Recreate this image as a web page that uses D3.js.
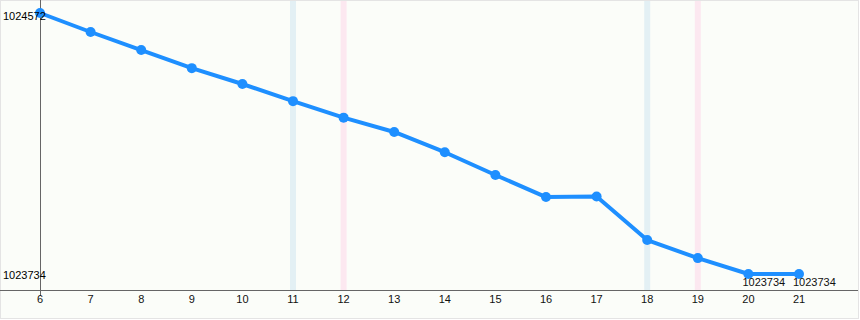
<!DOCTYPE html>
<html>
<head>
<meta charset="utf-8">
<script src="https://cdn.jsdelivr.net/npm/d3@7"></script>
<style>
  body { margin: 0; background: #fff; }
  svg { display: block; font-family: Arial, "Liberation Sans", sans-serif; }
</style>
</head>
<body>
<svg></svg>
<script>
//--Data
var days = [6, 7, 8, 9, 10, 11, 12, 13, 14, 15, 16, 17, 18, 19, 20, 21];
var values = [1024572, 1024511, 1024453, 1024395, 1024344, 1024289, 1024236, 1024190,
  1024125, 1024052, 1023981, 1023983, 1023843, 1023785, 1023734, 1023734];
var blueDays = [11, 18];
var pinkDays = [12, 19];
var labelledDays = [20, 21];

//Shared info
var canvas = {
  width: 860,
  height: 320,
  axisY: 290,
  line: "#1e8fff"
};
canvas.x = d3.scaleLinear().domain([6, 21]).range([40, 799]);
canvas.y = d3.scaleLinear().domain([d3.min(values), d3.max(values)]).range([274, 13]);

let root = d3.select("svg")
  .attr("width", canvas.width)
  .attr("height", canvas.height);

//Background and frame
root.append("rect")
  .attr("x", 0.5).attr("y", 0.5)
  .attr("width", canvas.width - 2).attr("height", canvas.height - 2)
  .attr("fill", "#fbfdf9")
  .attr("stroke", "#e4e4e4");

//Highlight bands
root.append("g").selectAll("rect")
  .data(blueDays.map(d => ({d: d, c: "#e3f0f4"})).concat(pinkDays.map(d => ({d: d, c: "#fce8f0"}))))
  .join("rect")
  .attr("x", d => canvas.x(d.d) - 3)
  .attr("y", 1)
  .attr("width", 6)
  .attr("height", canvas.axisY - 1)
  .attr("fill", d => d.c);

//Axes
root.append("line")
  .attr("x1", 0).attr("x2", canvas.width - 2)
  .attr("y1", canvas.axisY + 0.5).attr("y2", canvas.axisY + 0.5)
  .attr("stroke", "#666");
root.append("line")
  .attr("x1", canvas.x(6) + 0.5).attr("x2", canvas.x(6) + 0.5)
  .attr("y1", 0).attr("y2", canvas.axisY + 6)
  .attr("stroke", "#666");

root.append("g").selectAll("text")
  .data(days)
  .join("text")
  .attr("x", d => canvas.x(d))
  .attr("y", canvas.axisY + 13)
  .attr("text-anchor", "middle")
  .style("font-size", "11px")
  .attr("fill", "#111")
  .text(d => d);

//Line
let pts = days.map((d, i) => [d, values[i]]);
root.append("path")
  .datum(pts)
  .attr("fill", "none")
  .attr("stroke", canvas.line)
  .attr("stroke-width", 4)
  .attr("stroke-linejoin", "round")
  .attr("d", d3.line().x(d => canvas.x(d[0])).y(d => canvas.y(d[1])));

root.append("g").selectAll("circle")
  .data(pts)
  .join("circle")
  .attr("cx", d => canvas.x(d[0]))
  .attr("cy", d => canvas.y(d[1]))
  .attr("r", 5)
  .attr("fill", canvas.line);

//Y extremes
root.append("g").selectAll("text")
  .data(d3.extent(values))
  .join("text")
  .attr("x", 3)
  .attr("y", d => Math.max(canvas.y(d) + 5, 20))
  .style("font-size", "11px")
  .attr("fill", "#000")
  .text(d => d);

//Point labels
root.append("g").selectAll("text")
  .data(pts.filter(d => labelledDays.includes(d[0])))
  .join("text")
  .attr("x", d => canvas.x(d[0]) - 6)
  .attr("y", d => canvas.y(d[1]) + 12)
  .style("font-size", "11px")
  .attr("fill", "#111")
  .text(d => d[1]);
</script>
</body>
</html>
